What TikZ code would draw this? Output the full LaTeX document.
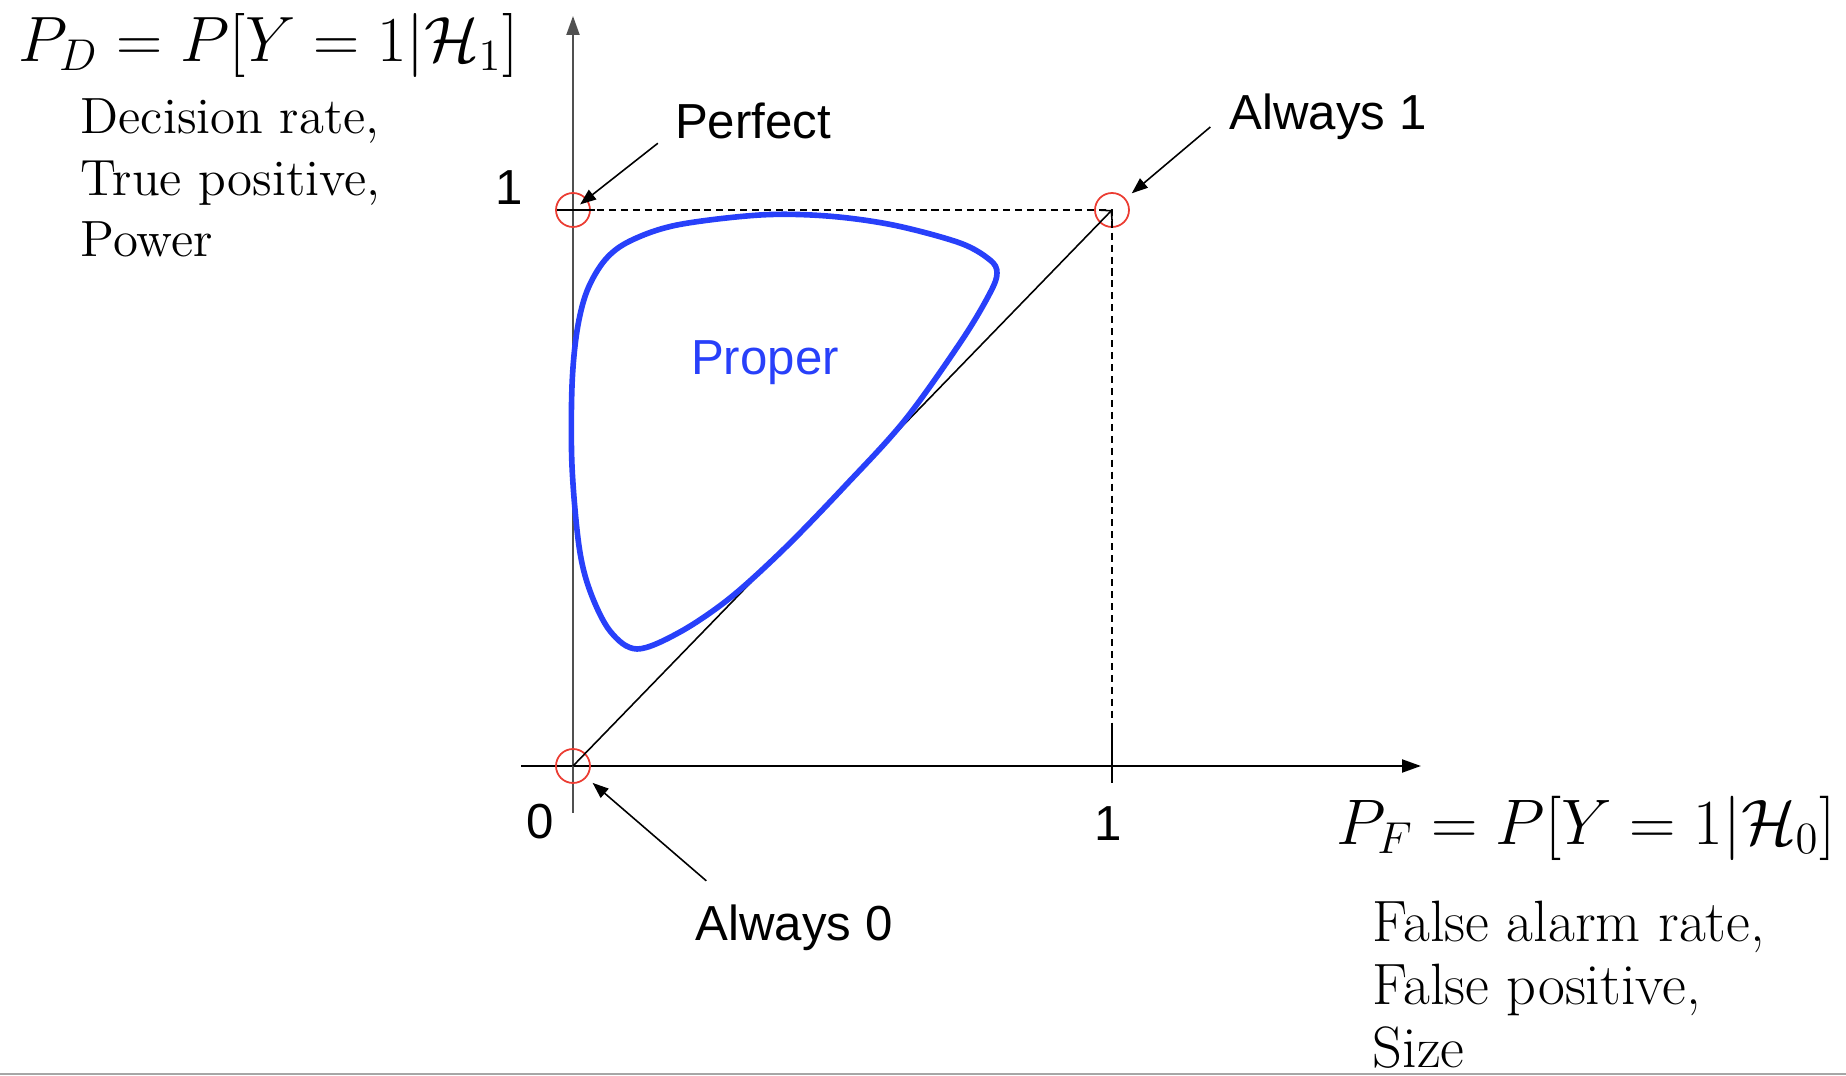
\documentclass[tikz,border=0pt]{standalone}
\usepackage{fontspec}
\usepackage{amsmath}
\newfontfamily\arialfont{Liberation Sans}
\usetikzlibrary{arrows.meta,positioning}
\definecolor{rocblue}{RGB}{40,64,250}
\definecolor{rocred}{RGB}{235,60,50}
\definecolor{axgray}{RGB}{80,80,80}

\begin{document}
\begin{tikzpicture}[
  font=\arialfont\fontsize{14}{17}\selectfont,
  lbl/.style={inner sep=1pt},
  txt/.style={font=\rmfamily\fontsize{14.5}{17.5}\selectfont,align=left,anchor=west,inner sep=0pt},
  eqn/.style={font=\rmfamily\fontsize{17.28}{21}\selectfont,anchor=west,inner sep=0pt},
  ring/.style={draw=rocred,circle,minimum size=0.34cm,inner sep=0pt,line width=0.5pt},
  ax/.style={-{Triangle[length=1.9mm,width=1.3mm]},line width=0.6pt},
  arr/.style={-{Triangle[length=1.6mm,width=1.2mm]},line width=0.45pt},
  guide/.style={dash pattern=on 2pt off 1.4pt,line width=0.45pt},
  diag/.style={-{Straight Barb[length=0.7mm,width=1.6mm]},line width=0.45pt}
]
\useasboundingbox (0,0) rectangle (18.46,10.76);

\coordinate (xs) at (5.21,3.10);
\coordinate (xe) at (14.21,3.10);
\coordinate (ys) at (5.73,2.63);
\coordinate (ye) at (5.73,10.60);
\draw[ax] (xs) -- (xe);
\draw[ax,draw=axgray] (ys) -- (ye);

\node[ring] (zero) at (5.73,3.10) {};
\node[ring] (perf) at (5.73,8.66) {};
\node[ring] (one) at (11.12,8.66) {};

\draw[guide] (perf.center) -- (one.center) -- (one.center |- zero.center);
\draw[line width=0.6pt] ([yshift=3.8mm]one.center |- zero.center) -- ([yshift=-1.7mm]one.center |- zero.center);
\draw[line width=0.6pt] ([xshift=-1.6mm]perf.center) -- ([xshift=2.2mm]perf.center);
\draw[diag] (zero.center) -- (one.center);

\draw[rocblue,line width=1.6pt] plot[smooth cycle,tension=0.55] coordinates {
  (5.72,6.90) (5.77,7.45) (5.87,7.85) (6.05,8.16) (6.30,8.35) (6.77,8.51)
  (7.60,8.61) (8.27,8.60) (8.93,8.51) (9.60,8.33) (9.90,8.16) (9.97,8.03)
  (9.90,7.83) (9.62,7.36) (9.05,6.56) (8.45,5.90) (7.85,5.28) (7.30,4.78)
  (6.80,4.44) (6.37,4.27) (6.10,4.45) (5.90,4.85) (5.79,5.30) (5.72,6.10)};

\node (yone) at (5.09,8.88) {1};
\node (xzero) at (5.40,2.54) {0};
\node (xone) at (11.08,2.52) {1};
\node[text=rocblue] (proper) at (7.65,7.13) {Proper};

\node[lbl] (perfect) at (7.53,9.55) {Perfect};
\node[lbl] (always1) at (13.28,9.59) {Always 1};
\node[lbl] (always0) at (7.94,1.48) {Always 0};
\draw[arr,shorten >=0.9mm] ([xshift=-1.3mm]perfect.south west) -- (perf.center);
\draw[arr,shorten >=0.8mm] ([shift={(-1.5mm,-1mm)}]always1.west) -- (one);
\draw[arr,shorten >=0.8mm] ([shift={(1.5mm,2mm)}]always0.north west) -- (zero);

\node[eqn] (pd) at (0.18,10.31) {\scalebox{1.055}{$P_D = P[Y=1|\mathcal{H}_1]$}};
\node[txt] (pdtext) at (0.80,8.98) {Decision rate,\\True positive,\\Power};
\node[eqn] (pf) at (13.36,2.48) {\scalebox{1.06}{$P_F = P[Y=1|\mathcal{H}_0]$}};
\node[txt,font=\rmfamily\fontsize{16.6}{17.9}\selectfont] (pftext) at (13.72,0.91) {False alarm rate,\\False positive,\\Size};

\draw[gray!70,line width=0.6pt] (0,0.02) -- (18.46,0.02);
\end{tikzpicture}
\end{document}
